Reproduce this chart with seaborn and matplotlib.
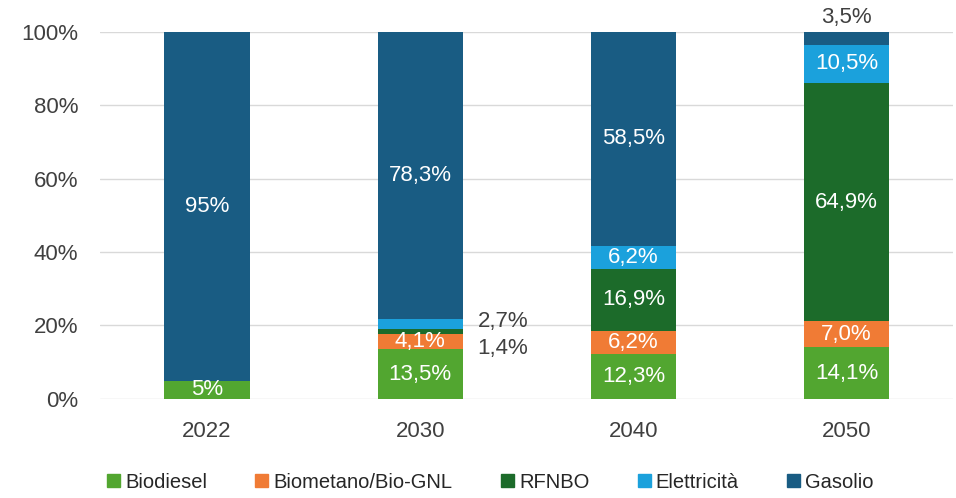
import numpy as np
import matplotlib
matplotlib.use("Agg")
import matplotlib.pyplot as plt
import matplotlib.patches as mpatches
import seaborn as sns

# data (percent shares)
years = ["2022", "2030", "2040", "2050"]
biodiesel = [5.0, 13.5, 12.3, 14.1]
biometano = [0.0, 4.1, 6.2, 7.0]
rfnbo = [0.0, 1.4, 16.9, 64.9]
elettricita = [0.0, 2.7, 6.2, 10.5]
gasolio = [95.0, 78.3, 58.5, 3.5]

series_names = ["Biodiesel", "Biometano/Bio-GNL", "RFNBO", "Elettricità", "Gasolio"]
series_vals = [biodiesel, biometano, rfnbo, elettricita, gasolio]
colors = ["#52a630", "#f07b35", "#1c6b2a", "#1ba1dc", "#195c83"]

# label texts per series and year ('' = none inside the bar)
lab_biodiesel = ["5%", "13,5%", "12,3%", "14,1%"]
lab_biometano = ["", "4,1%", "6,2%", "7,0%"]
lab_rfnbo = ["", "", "16,9%", "64,9%"]
lab_elettricita = ["", "", "6,2%", "10,5%"]
lab_gasolio = ["95%", "78,3%", "58,5%", ""]
inner_labels = [lab_biodiesel, lab_biometano, lab_rfnbo, lab_elettricita, lab_gasolio]

sns.set_style("white")
plt.rcParams["font.family"] = ["Liberation Sans", "DejaVu Sans"]

fig = plt.figure(figsize=(9.56, 4.98), dpi=100)
ax = fig.add_axes([0.105, 0.199, 0.892, 0.737])

bottom = np.zeros(len(years))
for name, vals, col, labs in zip(series_names, series_vals, colors, inner_labels):
    vals = np.array(vals)
    sns.barplot(x=years, y=vals, bottom=bottom, color=col, width=0.4,
                saturation=1, ax=ax, edgecolor="none", linewidth=0)
    for i, t in enumerate(labs):
        if t:
            ax.text(i, bottom[i] + vals[i] / 2, t, ha="center", va="center",
                    color="white", fontsize=16)
    bottom = bottom + vals

# small shares written outside the bars
ax.text(1.27, 21.0, "2,7%", ha="left", va="center", color="#404040", fontsize=16)
ax.text(1.27, 13.8, "1,4%", ha="left", va="center", color="#404040", fontsize=16)
ax.text(3, 103.9, "3,5%", ha="center", va="center", color="#404040", fontsize=16)

ax.set_ylim(0, 100)
ax.set_xlim(-0.5, 3.5)
ax.set_yticks(range(0, 101, 20))
ax.set_yticklabels([f"{v}%" for v in range(0, 101, 20)])
ax.yaxis.grid(True, color="#d9d9d9", linewidth=1)
ax.set_axisbelow(True)
for s in ax.spines.values():
    s.set_visible(False)
ax.tick_params(axis="both", length=0, labelsize=16, colors="#404040")
ax.tick_params(axis="y", pad=16)
ax.tick_params(axis="x", pad=16)
ax.set_xlabel("")
ax.set_ylabel("")

handles = [mpatches.Patch(color=c, label=n) for n, c in zip(series_names, colors)]
fig.legend(handles=handles, loc="center", bbox_to_anchor=(0.513, 0.032), ncol=5,
           frameon=False, fontsize=14.5, handlelength=0.65, handleheight=0.65,
           handletextpad=0.25, columnspacing=2.4, labelcolor="#262626")

fig.savefig("out.png", dpi=100)
